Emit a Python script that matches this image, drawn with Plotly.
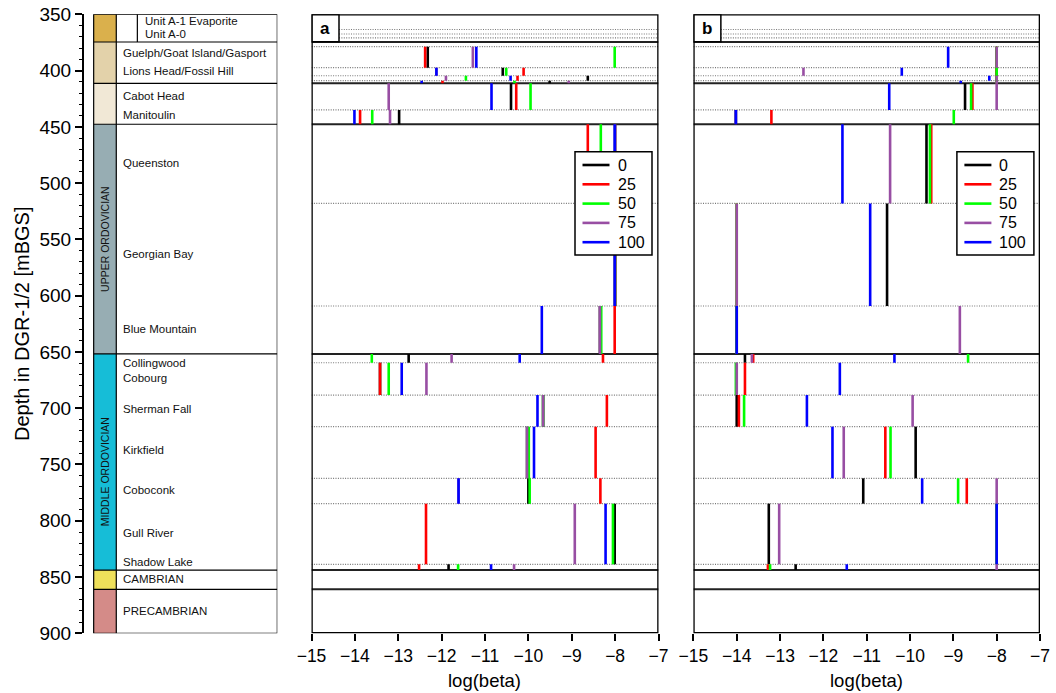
import plotly.graph_objects as go

# ---- formation intervals (depth in m below ground surface) ----
formations = ["Guelph", "Goat Island", "Gasport", "Lions Head", "Fossil Hill",
              "Cabot Head", "Manitoulin", "Queenston", "Georgian Bay",
              "Blue Mountain", "Collingwood", "Cobourg", "Sherman Fall",
              "Kirkfield", "Coboconk", "Gull River", "Shadow Lake"]
tops = [374.6, 378.8, 397.4, 404.6, 409.0, 411.3, 435.0, 447.7, 518.0,
        609.2, 651.8, 659.6, 688.3, 716.4, 762.3, 784.8, 838.7]
bottoms = tops[1:] + [843.8]

# group boundaries (solid) and formation boundaries (dotted)
group_lines = [374.6, 411.3, 447.7, 651.8, 843.8, 860.9]
unit_a_lines = [363.5, 367.5, 371.0]
dotted_lines = [378.8, 397.4, 404.6, 409.0, 435.0, 518.0, 609.2,
                659.6, 688.3, 716.4, 762.3, 784.8, 838.7]

series_names = ["0", "25", "50", "75", "100"]
series_colors = ["#000000", "#ff0000", "#00ff00", "#984ea3", "#0000ff"]

# ---- log(beta) per formation, panel a ----
a_0 = [None, -12.32, -10.59, -8.63, -9.51, -10.40, -12.98, -8.0, -8.0, -8.35,
       -12.76, -13.42, -9.66, -10.03, -10.00, -8.01, -11.84]
a_25 = [None, -12.38, -10.11, -10.25, -11.98, -10.28, -13.88, -8.63, -8.0, -8.01,
        -8.28, -13.42, -8.19, -8.45, -8.34, -12.36, -12.52]
a_50 = [None, -8.01, -10.51, -11.44, -10.32, -9.95, -13.60, -8.33, -8.0, -8.32,
        -13.61, -13.22, -9.66, -9.99, -9.97, -8.05, -11.62]
a_75 = [None, -11.28, -12.12, -11.90, -9.07, -13.22, -13.19, -8.0, -8.0, -8.35,
        -11.77, -12.35, -9.66, -10.03, -11.61, -8.93, -10.33]
a_100 = [None, -11.20, -12.12, -10.41, -12.46, -10.85, -14.01, -8.01, -8.01, -9.69,
         -10.20, -12.92, -9.79, -9.87, -11.61, -8.22, -10.86]

# ---- log(beta) per formation, panel b ----
b_0 = [None, -8.0, -8.0, -8.0, -8.0, -8.73, -14.02, -9.62, -10.53, -14.0,
       -13.81, -14.0, -14.0, -9.87, -11.08, -13.26, -12.64]
b_25 = [None, -8.0, -8.0, -8.0, -8.0, -8.56, -13.20, -9.51, -14.0, -14.0,
        -13.62, -13.81, -13.95, -10.57, -8.69, -8.0, -13.28]
b_50 = [None, -8.0, -8.0, -8.0, -8.0, -8.59, -8.99, -9.54, -14.0, -14.0,
        -8.66, -14.02, -13.83, -10.45, -8.89, -8.0, -13.23]
b_75 = [None, -8.0, -12.46, -8.0, -8.0, -8.0, -14.02, -10.46, -14.0, -8.85,
        -13.65, -14.0, -9.94, -11.53, -8.0, -13.02, -8.0]
b_100 = [None, -9.12, -10.19, -8.17, -8.83, -10.48, -14.02, -11.56, -10.92, -14.0,
         -10.36, -11.62, -12.38, -11.79, -9.72, -8.0, -11.46]

panel_a = [a_0, a_25, a_50, a_75, a_100]
panel_b = [b_0, b_25, b_50, b_75, b_100]

# ---- stratigraphic column ----
col_blocks = [(350.0, 374.6, "#dab04c"), (374.6, 411.3, "#e3d2aa"),
              (411.3, 447.7, "#f1e8d6"), (447.7, 651.8, "#97adb3"),
              (651.8, 843.8, "#16bdd7"), (843.8, 860.9, "#efe05a"),
              (860.9, 900.0, "#d48b88")]
col_labels = ["Guelph/Goat Island/Gasport", "Lions Head/Fossil Hill", "Cabot Head",
              "Manitoulin", "Queenston", "Georgian Bay", "Blue Mountain",
              "Collingwood", "Cobourg", "Sherman Fall", "Kirkfield", "Coboconk",
              "Gull River", "Shadow Lake", "CAMBRIAN", "PRECAMBRIAN"]
col_label_depths = [384.1, 400.1, 422.6, 439.5, 481.9, 563.0, 629.6, 659.6,
                    673.4, 701.0, 737.0, 772.6, 810.6, 836.6, 852.0, 879.9]
unit_a_labels = ["Unit A-1 Evaporite", "Unit A-0"]
unit_a_depths = [356.0, 367.2]
period_labels = ["UPPER ORDOVICIAN", "MIDDLE ORDOVICIAN"]
period_depths = [549.6, 756.0]

x_ticks = list(range(-15, -6))
y_ticks = list(range(350, 901, 50))

W, H = 1056, 693
YDOM = [1 - 633.3 / H, 1 - 14.3 / H]
XA_DOM = [311.5 / W, 658.5 / W]
XB_DOM = [693.4 / W, 1040.0 / W]
XC_DOM = [84.0 / W, 277.3 / W]
FONT = "Liberation Sans, Arial, sans-serif"

fig = go.Figure()


def bar_segments(vals):
    xs, ys = [], []
    for v, t, b in zip(vals, tops, bottoms):
        if v is None:
            continue
        xs += [v, v, None]
        ys += [t, b, None]
    return xs, ys


for panel, xref in [(panel_a, "x"), (panel_b, "x2")]:
    for name, color, vals in zip(series_names, series_colors, panel):
        xs, ys = bar_segments(vals)
        fig.add_trace(go.Scatter(
            x=xs, y=ys, mode="lines", name=name, xaxis=xref, yaxis="y",
            line=dict(color=color, width=2.6), showlegend=False,
            connectgaps=False, hoverinfo="skip"))

shapes = []
annotations = []

# panel boundaries, label boxes and frames
for xr, lab, dom in [("x", "a", XA_DOM), ("x2", "b", XB_DOM)]:
    box_w = 27.5 / ((658.5 - 311.5) / 8.0)
    for d in group_lines:
        shapes.append(dict(type="line", xref=xr, yref="y", x0=-15, x1=-7,
                           y0=d, y1=d, line=dict(color="#222", width=2),
                           layer="below"))
    for d in dotted_lines:
        shapes.append(dict(type="line", xref=xr, yref="y", x0=-15, x1=-7,
                           y0=d, y1=d, line=dict(color="#777", width=1.2,
                                                  dash="1px,1.4px"),
                           layer="below"))
    for d in unit_a_lines:
        shapes.append(dict(type="line", xref=xr, yref="y", x0=-15 + box_w, x1=-7,
                           y0=d, y1=d, line=dict(color="#777", width=1.2,
                                                  dash="1px,1.4px"),
                           layer="below"))
    shapes.append(dict(type="rect", xref=xr, yref="y", x0=-15, x1=-15 + box_w,
                       y0=350, y1=374.3, line=dict(color="black", width=1.5),
                       fillcolor="white"))
    annotations.append(dict(xref=xr, yref="y", x=-15 + box_w / 2, y=362.2,
                            text="<b>%s</b>" % lab, showarrow=False,
                            font=dict(size=17, color="black", family=FONT)))
    shapes.append(dict(type="rect", xref=xr, yref="y", x0=-15, x1=-7,
                       y0=350, y1=900, line=dict(color="black", width=2.6)))

    # legend box inside the panel (pixel layout converted to paper units)
    left_px = dom[0] * W + 263.5
    shapes.append(dict(type="rect", xref="paper", yref="paper",
                       x0=left_px / W, x1=(left_px + 77) / W,
                       y0=1 - 255.0 / H, y1=1 - 151.7 / H,
                       fillcolor="white", line=dict(color="black", width=1.5)))
    for i, (name, color) in enumerate(zip(series_names, series_colors)):
        yc = 1 - (165.0 + 19.3 * i) / H
        shapes.append(dict(type="line", xref="paper", yref="paper",
                           x0=(left_px + 7.5) / W, x1=(left_px + 34.5) / W,
                           y0=yc, y1=yc, line=dict(color=color, width=2.6)))
        annotations.append(dict(xref="paper", yref="paper",
                                x=(left_px + 40.5) / W, y=yc, text=name,
                                showarrow=False, xanchor="left", yanchor="middle",
                                font=dict(size=16, color="black", family=FONT)))

# stratigraphic column (x3 spans 0..1 across the column)
strip0, strip1 = 0.050, 0.167
for t, b, c in col_blocks:
    shapes.append(dict(type="rect", xref="x3", yref="y", x0=strip0, x1=strip1,
                       y0=t, y1=b, fillcolor=c, line=dict(width=0)))
shapes.append(dict(type="rect", xref="x3", yref="y", x0=strip0, x1=1.0,
                   y0=350, y1=900, line=dict(color="black", width=1.2)))
shapes.append(dict(type="line", xref="x3", yref="y", x0=strip1, x1=strip1,
                   y0=350, y1=900, line=dict(color="black", width=1.2)))
for d in group_lines:
    shapes.append(dict(type="line", xref="x3", yref="y", x0=strip0, x1=1.0,
                       y0=d, y1=d, line=dict(color="black", width=1.2)))
shapes.append(dict(type="line", xref="x3", yref="y", x0=0.276, x1=0.276,
                   y0=350, y1=374.6, line=dict(color="black", width=1.2)))

label_font = dict(size=11.5, color="#111", family=FONT)
for txt, d in zip(col_labels, col_label_depths):
    annotations.append(dict(xref="x3", yref="y", x=0.191, y=d, text=txt,
                            showarrow=False, xanchor="left", yanchor="middle",
                            font=label_font))
for txt, d in zip(unit_a_labels, unit_a_depths):
    annotations.append(dict(xref="x3", yref="y", x=0.304, y=d, text=txt,
                            showarrow=False, xanchor="left", yanchor="middle",
                            font=label_font))
for txt, d in zip(period_labels, period_depths):
    annotations.append(dict(xref="x3", yref="y", x=(strip0 + strip1) / 2, y=d,
                            text=txt, showarrow=False, textangle=-90,
                            xanchor="center", yanchor="middle",
                            font=dict(size=10.5, color="#111", family=FONT)))

# axis titles
annotations.append(dict(xref="paper", yref="paper", x=22 / W, y=1 - 324 / H,
                        xanchor="center", yanchor="middle",
                        text="Depth in DGR-1/2 [mBGS]", showarrow=False,
                        textangle=-90,
                        font=dict(size=20, color="black", family=FONT)))
for dom in (XA_DOM, XB_DOM):
    annotations.append(dict(xref="paper", yref="paper", x=(dom[0] + dom[1]) / 2,
                            y=1 - 680 / H, xanchor="center", yanchor="middle",
                            text="log(beta)", showarrow=False,
                            font=dict(size=18.5, color="black", family=FONT)))

xaxis_common = dict(range=[-15, -7], tickvals=x_ticks, ticks="outside",
                    ticklen=7, tickwidth=1.5, tickcolor="black",
                    showgrid=False, zeroline=False, showline=False,
                    automargin=False,
                    tickfont=dict(size=17.5, color="black", family=FONT),
                    anchor="y", fixedrange=True)

fig.update_layout(
    width=W, height=H,
    margin=dict(l=0, r=0, t=0, b=0, pad=0, autoexpand=False),
    paper_bgcolor="white", plot_bgcolor="white",
    xaxis=dict(domain=XA_DOM, **xaxis_common),
    xaxis2=dict(domain=XB_DOM, **xaxis_common),
    xaxis3=dict(domain=XC_DOM, range=[0, 1], visible=False, anchor="y",
                fixedrange=True, automargin=False),
    yaxis=dict(domain=YDOM, range=[900, 350], anchor="x3", side="left",
               tickvals=y_ticks, ticks="outside", ticklen=7, tickwidth=1.5,
               tickcolor="black", showline=True, linecolor="black",
               linewidth=2, showgrid=False, zeroline=False, automargin=False,
               minor=dict(dtick=10, tick0=350, ticks="outside", ticklen=3.5,
                          tickwidth=1.2, tickcolor="black", showgrid=False),
               tickfont=dict(size=19, color="black", family=FONT),
               fixedrange=True),
    shapes=shapes,
    annotations=annotations,
    showlegend=False,
)

fig.write_html("out.html")
